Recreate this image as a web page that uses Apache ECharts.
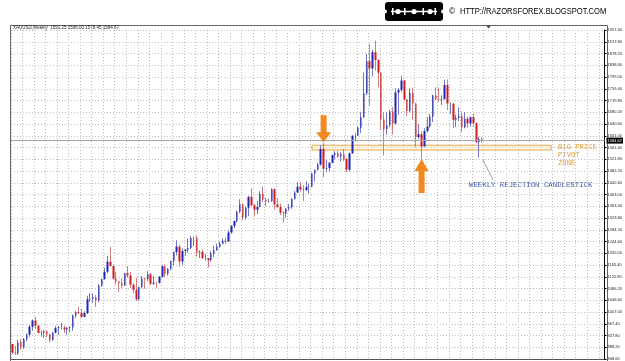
<!DOCTYPE html>
<html>
<head>
<meta charset="utf-8">
<script src="https://cdn.jsdelivr.net/npm/echarts@6/dist/echarts.min.js"></script>
<style>
  html, body { margin: 0; padding: 0; background: #fff; }
  #chart { width: 625px; height: 361px; }
</style>
</head>
<body>
<div id="chart"></div>
<script>
// weekly XAUUSD bars, [open, high, low, close], first bar = week of 2009-04-06
const bars2009 = [
  [899, 900, 865, 870], [870, 893, 862, 868], [868, 913, 862, 904], [906, 916, 880, 887],
  [887, 920, 883, 915], [915, 935, 908, 930], [930, 964, 924, 957], [957, 982, 944, 978],
  [978, 991, 950, 961], [961, 963, 935, 936], [936, 944, 924, 937], [937, 947, 920, 942],
  [942, 945, 922, 932], [932, 935, 904, 913], [913, 940, 910, 937], [937, 960, 935, 953],
  [953, 960, 929, 955], [955, 970, 948, 955], [955, 961, 936, 948], [948, 957, 929, 953],
  [953, 959, 938, 955], [955, 998, 944, 996], [996, 1010, 987, 1006], [1006, 1025, 1000, 1004],
  [1004, 1018, 987, 990], [990, 1010, 990, 1004], [1004, 1062, 1000, 1050], [1050, 1071, 1041, 1052],
  [1052, 1070, 1038, 1057], [1057, 1064, 1024, 1046], [1046, 1101, 1040, 1096], [1096, 1119, 1092, 1118],
  [1118, 1156, 1115, 1143], [1143, 1196, 1137, 1176], [1176, 1227, 1160, 1162], [1162, 1167, 1117, 1119],
  [1119, 1143, 1100, 1110], [1110, 1111, 1075, 1104], [1104, 1120, 1087, 1096]
];
const bars2010 = [
  [1096, 1139, 1095, 1138], [1138, 1162, 1122, 1130], [1130, 1142, 1089, 1099], [1099, 1104, 1071, 1082],
  [1082, 1123, 1044, 1050], [1050, 1092, 1047, 1091], [1091, 1128, 1087, 1120], [1120, 1123, 1085, 1117],
  [1117, 1145, 1111, 1134], [1134, 1138, 1098, 1102], [1102, 1128, 1099, 1106], [1106, 1107, 1087, 1105],
  [1105, 1128, 1103, 1126], [1126, 1165, 1123, 1161], [1161, 1168, 1125, 1136], [1136, 1155, 1130, 1153],
  [1153, 1180, 1147, 1179], [1179, 1211, 1162, 1209], [1209, 1249, 1198, 1228], [1228, 1234, 1160, 1177],
  [1177, 1221, 1166, 1213], [1213, 1220, 1197, 1217], [1217, 1254, 1207, 1223], [1223, 1263, 1219, 1256],
  [1256, 1262, 1229, 1256], [1256, 1265, 1194, 1208], [1208, 1215, 1189, 1210], [1210, 1217, 1185, 1189],
  [1189, 1203, 1180, 1189], [1189, 1189, 1157, 1181], [1181, 1212, 1177, 1204], [1204, 1230, 1192, 1215],
  [1215, 1237, 1213, 1227], [1227, 1244, 1224, 1237], [1237, 1255, 1236, 1247], [1247, 1258, 1237, 1245],
  [1245, 1282, 1244, 1275], [1275, 1300, 1271, 1297], [1297, 1315, 1290, 1314], [1314, 1349, 1309, 1345],
  [1345, 1387, 1340, 1370], [1370, 1373, 1316, 1325], [1325, 1363, 1318, 1358], [1358, 1398, 1330, 1395],
  [1395, 1424, 1362, 1367], [1367, 1372, 1330, 1352], [1352, 1381, 1337, 1362], [1362, 1414, 1360, 1405],
  [1405, 1431, 1378, 1386], [1386, 1393, 1363, 1379], [1379, 1389, 1375, 1380], [1380, 1424, 1378, 1421]
];
const bars2011 = [
  [1421, 1424, 1352, 1369], [1369, 1391, 1359, 1361], [1361, 1372, 1334, 1342], [1342, 1346, 1308, 1340],
  [1340, 1358, 1325, 1356], [1356, 1371, 1348, 1360], [1360, 1390, 1355, 1388], [1388, 1415, 1386, 1410],
  [1410, 1445, 1408, 1429], [1429, 1445, 1413, 1420], [1420, 1434, 1381, 1418], [1418, 1448, 1415, 1428],
  [1428, 1440, 1406, 1430], [1430, 1476, 1427, 1474], [1474, 1487, 1447, 1486], [1486, 1510, 1485, 1504],
  [1504, 1569, 1500, 1556], [1557, 1577, 1462, 1491], [1491, 1521, 1478, 1492], [1492, 1512, 1481, 1510],
  [1510, 1537, 1508, 1536], [1536, 1549, 1522, 1542], [1542, 1549, 1527, 1530], [1530, 1545, 1514, 1539],
  [1539, 1557, 1516, 1522], [1522, 1526, 1478, 1486], [1486, 1545, 1481, 1542], [1542, 1603, 1540, 1601],
  [1601, 1610, 1582, 1601], [1601, 1632, 1600, 1628], [1628, 1682, 1610, 1663], [1663, 1814, 1660, 1744],
  [1744, 1877, 1738, 1852], [1852, 1911, 1702, 1828], [1828, 1890, 1801, 1882], [1882, 1921, 1820, 1856],
  [1856, 1860, 1764, 1813], [1813, 1815, 1621, 1656], [1656, 1681, 1534, 1624], [1624, 1681, 1605, 1636],
  [1636, 1688, 1630, 1682], [1682, 1697, 1605, 1642], [1642, 1761, 1638, 1747], [1747, 1762, 1672, 1755],
  [1755, 1803, 1748, 1787], [1787, 1789, 1718, 1724], [1724, 1725, 1667, 1684], [1684, 1761, 1680, 1746],
  [1746, 1763, 1655, 1710], [1710, 1711, 1563, 1597], [1597, 1640, 1590, 1606], [1606, 1615, 1523, 1565]
];
const bars2012 = [
  [1565, 1626, 1564, 1617], [1617, 1663, 1612, 1632], [1632, 1675, 1628, 1665], [1665, 1739, 1647, 1737],
  [1737, 1764, 1721, 1725], [1725, 1763, 1715, 1723], [1723, 1737, 1705, 1725], [1725, 1790, 1722, 1772],
  [1772, 1791, 1688, 1710], [1710, 1713, 1674, 1710], [1710, 1710, 1627, 1655], [1655, 1672, 1630, 1662],
  [1662, 1697, 1650, 1668], [1668, 1683, 1612, 1630], [1630, 1680, 1626, 1658], [1658, 1665, 1628, 1642],
  [1642, 1666, 1633, 1663], [1663, 1675, 1632, 1644], [1644, 1645, 1577, 1579], [1580, 1597, 1527, 1591],
  [1591, 1596, 1578, 1585]
];

const firstWeek = [2009, 3, 6];   // y, m (0-based), d
const totalSlots = 206;           // bars + empty shift space on the right
const yRange = [848.6, 1957.4];
const yStep = 39.6;
const bidPrice = 1584.67;
const pivotZone = [1553, 1569];
const pivotSpan = ['2011-04-04', '2012-11-05'];
const arrowDownAt = ['2011-05-02', 1577];
const arrowUpAt = ['2011-12-26', 1523];

const weeks = [];
for (let i = 0; i < totalSlots; i++) {
  const d = new Date(Date.UTC(firstWeek[0], firstWeek[1], firstWeek[2] + i * 7));
  weeks.push(d.toISOString().slice(0, 10));
}
const bars = [...bars2009, ...bars2010, ...bars2011, ...bars2012];
const candles = bars.map(([o, h, l, c]) => [o, c, l, h]);

const orange = '#f2891e';
const chart = echarts.init(document.getElementById('chart'));

chart.setOption({
  animation: false,
  backgroundColor: '#fff',
  grid: { left: 11, right: 17, top: 30, bottom: 2 },
  xAxis: {
    type: 'category',
    data: weeks,
    boundaryGap: true,
    axisLine: { show: true, lineStyle: { color: '#555' } },
    axisTick: { show: false },
    axisLabel: { show: false },
    splitLine: { show: true, interval: 3, lineStyle: { color: '#bdbdbd', type: [1, 2], width: 1 } }
  },
  yAxis: {
    type: 'value',
    position: 'right',
    min: yRange[0],
    max: yRange[1],
    interval: yStep,
    axisLine: { show: true, lineStyle: { color: '#000' } },
    axisTick: { show: true, length: 2, lineStyle: { color: '#000' } },
    axisLabel: { fontSize: 4, color: '#222', margin: 3, formatter: v => v.toFixed(2) },
    splitLine: { show: true, lineStyle: { color: '#bdbdbd', type: [1, 2], width: 1 } }
  },
  series: [
    {
      // wicks
      type: 'candlestick',
      data: candles,
      barWidth: 1,
      itemStyle: { color: '#7676bc', color0: '#cc8080', borderColor: '#7676bc', borderColor0: '#cc8080', borderWidth: 1 },
      markArea: {
        silent: true,
        itemStyle: { color: 'rgba(255,238,200,0.45)', borderColor: '#e8a84c', borderWidth: 1 },
        data: [[{ xAxis: pivotSpan[0], yAxis: pivotZone[1] }, { xAxis: pivotSpan[1], yAxis: pivotZone[0] }]]
      },
      markLine: {
        silent: true,
        symbol: ['none', 'none'],
        lineStyle: { color: '#a8a8a8', type: 'solid', width: 1 },
        label: {
          position: 'end', distance: 2, fontSize: 4, color: '#fff',
          backgroundColor: '#000', padding: [1, 1], formatter: p => p.value.toFixed(2)
        },
        data: [{ yAxis: bidPrice }]
      }
    },
    {
      // bodies
      type: 'candlestick',
      data: candles,
      barWidth: 2,
      itemStyle: { color: '#1f26b2', color0: '#d11d1d', borderColor: '#1f26b2', borderColor0: '#d11d1d', borderWidth: 0 },
      markPoint: {
        silent: true,
        label: { show: false },
        itemStyle: { color: orange },
        data: [
          {
            coord: arrowDownAt, symbol: 'path://M4.5,0L10.5,0L10.5,17L15,17L7.5,27L0,17L4.5,17Z',
            symbolSize: [15, 27], symbolOffset: [0, -14]
          },
          {
            coord: arrowUpAt, symbol: 'path://M7,0L14,12L10,12L10,34L4,34L4,12L0,12Z',
            symbolSize: [14, 34], symbolOffset: [0, 17]
          }
        ]
      }
    }
  ],
  graphic: [
    // chart frame
    { type: 'rect', shape: { x: 10.5, y: 25.5, width: 597, height: 340 }, style: { fill: 'none', stroke: '#666', lineWidth: 1 }, silent: true },
    { type: 'text', left: 13, top: 25, style: { text: 'XAUUSD,Weekly  1591.25 1596.00 1578.45 1584.67', fontSize: 4.5, fill: '#222', fontFamily: 'Liberation Sans' } },
    { type: 'polygon', shape: { points: [[486, 25.5], [491, 25.5], [488.5, 28.5]] }, style: { fill: '#444' } },
    // razor blade logo
    {
      type: 'group', x: 385, y: 2,
      children: [
        { type: 'rect', shape: { x: 0, y: 0, width: 58, height: 19, r: 3 }, style: { fill: '#000' } },
        { type: 'circle', shape: { cx: 0, cy: 9.5, r: 2 }, style: { fill: '#fff' } },
        { type: 'circle', shape: { cx: 58, cy: 9.5, r: 2 }, style: { fill: '#fff' } },
        { type: 'line', shape: { x1: 6, y1: 9.5, x2: 52, y2: 9.5 }, style: { stroke: '#fff', lineWidth: 1.5 } },
        { type: 'circle', shape: { cx: 13, cy: 9.5, r: 2.6 }, style: { fill: '#fff' } },
        { type: 'circle', shape: { cx: 29, cy: 9.5, r: 2.6 }, style: { fill: '#fff' } },
        { type: 'circle', shape: { cx: 45, cy: 9.5, r: 2.6 }, style: { fill: '#fff' } },
        { type: 'rect', shape: { x: 7, y: 6, width: 1.5, height: 7 }, style: { fill: '#fff' } },
        { type: 'rect', shape: { x: 19, y: 6, width: 1.5, height: 7 }, style: { fill: '#fff' } },
        { type: 'rect', shape: { x: 37.5, y: 6, width: 1.5, height: 7 }, style: { fill: '#fff' } },
        { type: 'rect', shape: { x: 49.5, y: 6, width: 1.5, height: 7 }, style: { fill: '#fff' } }
      ]
    },
    { type: 'text', x: 449, y: 12, style: { text: '©', fontSize: 8.5, fill: '#000', fontFamily: 'Liberation Sans', verticalAlign: 'middle' } },
    {
      type: 'text', x: 460, y: 12, scaleX: 0.84,
      style: { text: 'HTTP://RAZORSFOREX.BLOGSPOT.COM', fontSize: 9, fill: '#000', verticalAlign: 'middle',
               fontFamily: '"Liberation Sans", sans-serif' }
    },
    // annotations
    { type: 'text', x: 558, y: 147, style: { text: 'BIG PRICE', fontSize: 7.2, fill: '#e39a3a', fontFamily: 'Liberation Mono', verticalAlign: 'middle' } },
    { type: 'text', x: 558, y: 155, style: { text: 'PIVOT', fontSize: 7.2, fill: '#e39a3a', fontFamily: 'Liberation Mono', verticalAlign: 'middle' } },
    { type: 'text', x: 558, y: 163, style: { text: 'ZONE', fontSize: 7.2, fill: '#e39a3a', fontFamily: 'Liberation Mono', verticalAlign: 'middle' } },
    { type: 'line', shape: { x1: 483, y1: 160, x2: 493, y2: 180 }, style: { stroke: '#9aa0b2', lineWidth: 1 } },
    { type: 'text', x: 469, y: 185, style: { text: 'WEEKLY REJECTION CANDLESTICK', fontSize: 7.35, fill: '#3a55a6', fontFamily: 'Liberation Mono', verticalAlign: 'middle' } }
  ]
});
</script>
</body>
</html>
